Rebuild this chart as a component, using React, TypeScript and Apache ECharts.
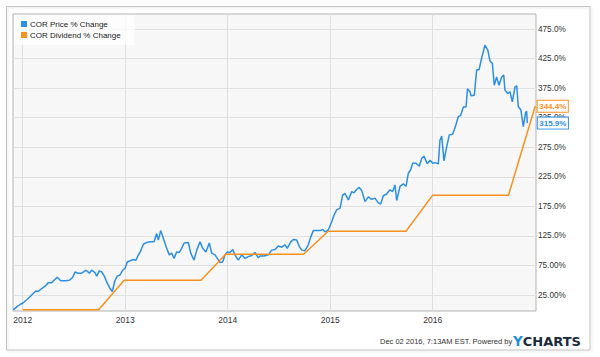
import React, { useEffect, useRef } from "react";
import * as echarts from "echarts";

// x positions are decimal years
const priceYears = [
  2011.908, 2011.941, 2011.974, 2012.006, 2012.039, 2012.071, 2012.103, 2012.13, 2012.152, 2012.185,
  2012.218, 2012.25, 2012.283, 2012.305, 2012.338, 2012.371, 2012.413, 2012.455, 2012.488, 2012.51,
  2012.542, 2012.576, 2012.618, 2012.65, 2012.673, 2012.705, 2012.722, 2012.747, 2012.771, 2012.796,
  2012.825, 2012.852, 2012.874, 2012.9, 2012.923, 2012.949, 2012.976, 2012.998, 2013.02, 2013.047,
  2013.079, 2013.105, 2013.128, 2013.144, 2013.177, 2013.21, 2013.242, 2013.281, 2013.307, 2013.323,
  2013.346, 2013.372, 2013.398, 2013.43, 2013.454, 2013.476, 2013.502, 2013.528, 2013.551, 2013.574,
  2013.616, 2013.639, 2013.671, 2013.698, 2013.73, 2013.756, 2013.788, 2013.82, 2013.844, 2013.876,
  2013.899, 2013.925, 2013.951, 2013.974, 2013.996, 2014.022, 2014.049, 2014.071, 2014.103, 2014.137,
  2014.169, 2014.201, 2014.234, 2014.266, 2014.299, 2014.315, 2014.354, 2014.396, 2014.429, 2014.461,
  2014.494, 2014.527, 2014.559, 2014.581, 2014.615, 2014.64, 2014.673, 2014.699, 2014.722, 2014.754,
  2014.786, 2014.81, 2014.835, 2014.868, 2014.9, 2014.927, 2014.949, 2014.981, 2015.015, 2015.037,
  2015.063, 2015.096, 2015.122, 2015.144, 2015.177, 2015.21, 2015.232, 2015.259, 2015.284, 2015.307,
  2015.34, 2015.372, 2015.405, 2015.437, 2015.469, 2015.493, 2015.518, 2015.551, 2015.583, 2015.61,
  2015.632, 2015.649, 2015.681, 2015.713, 2015.74, 2015.762, 2015.785, 2015.805, 2015.837, 2015.869,
  2015.893, 2015.915, 2015.947, 2015.974, 2016.0, 2016.022, 2016.055, 2016.071, 2016.088, 2016.11,
  2016.137, 2016.162, 2016.195, 2016.227, 2016.25, 2016.273, 2016.299, 2016.325, 2016.34, 2016.364,
  2016.374, 2016.406, 2016.429, 2016.452, 2016.478, 2016.51, 2016.537, 2016.559, 2016.582, 2016.601,
  2016.624, 2016.647, 2016.673, 2016.693, 2016.705, 2016.732, 2016.754, 2016.777, 2016.803, 2016.82,
  2016.835, 2016.861, 2016.884, 2016.907, 2016.917, 2016.923,
];
const priceValues = [
  0, 5, 9, 12, 17, 22, 28, 32, 31, 36,
  40, 46, 46, 50, 55, 49, 49, 50, 55, 64,
  62, 62, 67, 62, 67, 63, 57, 66, 64, 57,
  45, 36, 31, 50, 57, 59, 67, 70, 81, 83,
  85, 84, 93, 97, 111, 114, 115, 115, 129, 118,
  134, 121, 107, 93, 96, 87, 98, 97, 104, 113,
  114, 96, 84, 101, 115, 104, 98, 113, 96, 93,
  87, 80, 81, 93, 98, 97, 102, 93, 84, 93,
  87, 90, 92, 97, 88, 91, 91, 93, 101, 102,
  108, 106, 110, 104, 115, 119, 118, 107, 101, 100,
  110, 123, 134, 134, 134, 136, 132, 135, 149, 160,
  169, 172, 194, 197, 186, 200, 198, 204, 207, 202,
  183, 191, 187, 189, 181, 179, 193, 196, 203, 200,
  211, 185, 209, 213, 209, 231, 237, 248, 248, 243,
  256, 260, 247, 253, 248, 249, 247, 287, 294, 252,
  276, 296, 297, 313, 327, 329, 343, 343, 374, 369,
  362, 363, 406, 406, 426, 448, 440, 421, 417, 380,
  394, 380, 394, 397, 372, 366, 369, 352, 377, 379,
  344, 338, 310, 334, 336, 315.9,
];
const dividendYears = [2012.0, 2012.74, 2012.99, 2013.74, 2013.98, 2014.74, 2014.98, 2015.74, 2016.0, 2016.74, 2017.0];
const dividendValues = [0, 0, 50, 50, 94, 94, 133, 133, 194, 194, 344.4];
const yearTicks = [2012, 2013, 2014, 2015, 2016];
const percentTicks = [25, 75, 125, 175, 225, 275, 325, 375, 425, 475];
const seriesNames = ["COR Price % Change", "COR Dividend % Change"];
const stampText = "Dec 02 2016, 7:13AM EST. Powered by";

const BLUE = "#2d8fe3";
const ORANGE = "#f7901e";
const FONT = "'Liberation Sans', Arial, sans-serif";

export default function App() {
  const ref = useRef<HTMLDivElement>(null);
  useEffect(() => {
    const chart = echarts.init(ref.current!, null, { renderer: "svg" });
    const fmt = (v: number) => (v >= 100 ? v.toFixed(1) : v.toFixed(2)) + "%";
    const endLabelStyle = (color: string, distance: number) => ({
      show: true,
      distance,
      formatter: (p: any) => Number(p.value[1]).toFixed(1) + "%",
      color,
      fontSize: 8,
      fontWeight: "bold",
      fontFamily: FONT,
      backgroundColor: "#fff",
      borderColor: color,
      borderWidth: 1,
      padding: [1, 1.5, 1, 1.5],
      lineHeight: 9,
    });
    chart.setOption({
      animation: false,
      backgroundColor: "#ffffff",
      textStyle: { fontFamily: FONT },
      grid: {
        left: 13,
        right: 64,
        top: 14,
        bottom: 46,
        show: true,
        backgroundColor: "#f7f7f7",
        borderColor: "#b3b3b3",
        borderWidth: 1,
      },
      legend: {
        data: seriesNames,
        orient: "vertical",
        left: 14,
        top: 15,
        padding: [4, 14, 5, 7],
        itemGap: 1,
        itemWidth: 6,
        itemHeight: 6,
        icon: "rect",
        selectedMode: false,
        backgroundColor: "rgba(255,255,255,0.75)",
        textStyle: { fontSize: 8, color: "#222", fontFamily: FONT, lineHeight: 10, padding: [0, 0, 0, -2] },
      },
      xAxis: {
        type: "value",
        min: 2011.905,
        max: 2017.008,
        axisLine: { show: false },
        axisTick: { show: false, customValues: yearTicks },
        axisLabel: {
          customValues: yearTicks,
          formatter: (v: number) => String(Math.round(v)),
          fontSize: 8.5,
          color: "#333",
          margin: 4,
        },
        splitLine: { show: true, lineStyle: { color: "#e0e0e0", width: 1 } },
      },
      yAxis: {
        type: "value",
        position: "right",
        min: -2,
        max: 500.5,
        axisLine: { show: false },
        axisTick: { show: false, customValues: percentTicks },
        axisLabel: {
          customValues: percentTicks,
          formatter: fmt,
          fontSize: 8.2,
          color: "#333",
          margin: 2,
        },
        splitLine: { show: true, lineStyle: { color: "#e0e0e0", width: 1 } },
      },
      series: [
        {
          name: seriesNames[0],
          type: "line",
          data: priceYears.map((x, i) => [x, priceValues[i]]),
          showSymbol: false,
          symbol: "none",
          color: BLUE,
          lineStyle: { color: BLUE, width: 1.5 },
          endLabel: endLabelStyle(BLUE, 10.5),
          z: 3,
        },
        {
          name: seriesNames[1],
          type: "line",
          data: dividendYears.map((x, i) => [x, dividendValues[i]]),
          showSymbol: false,
          symbol: "none",
          color: ORANGE,
          lineStyle: { color: ORANGE, width: 1.5 },
          endLabel: endLabelStyle(ORANGE, 2.5),
          z: 4,
        },
      ],
      graphic: [
        {
          type: "rect",
          z: -10,
          shape: { x: 6.5, y: 6.5, width: 583.5, height: 343.5 },
          style: { fill: "none", stroke: "#c4c4c4", lineWidth: 1, shadowColor: "rgba(0,0,0,0.12)", shadowBlur: 2, shadowOffsetX: 1, shadowOffsetY: 1 },
        },
        {
          type: "text",
          x: 380,
          y: 341,
          style: { text: stampText, fontSize: 7.5, fontFamily: FONT, fill: "#333", verticalAlign: "middle" },
        },
        {
          type: "text",
          x: 513,
          y: 341,
          style: {
            text: "{y|Y}{c|CHARTS}",
            verticalAlign: "middle",
            rich: {
              y: { fill: "#1f8fe5", fontSize: 13.5, fontWeight: "bold", fontFamily: "'DejaVu Sans', sans-serif" },
              c: { fill: "#1c2a3c", fontSize: 13, fontWeight: "bold", fontFamily: "'DejaVu Sans', sans-serif" },
            },
          },
        },
      ],
    });
    return () => chart.dispose();
  }, []);
  return <div ref={ref} style={{ position: "fixed", left: 0, top: 0, width: 600, height: 357 }} />;
}
